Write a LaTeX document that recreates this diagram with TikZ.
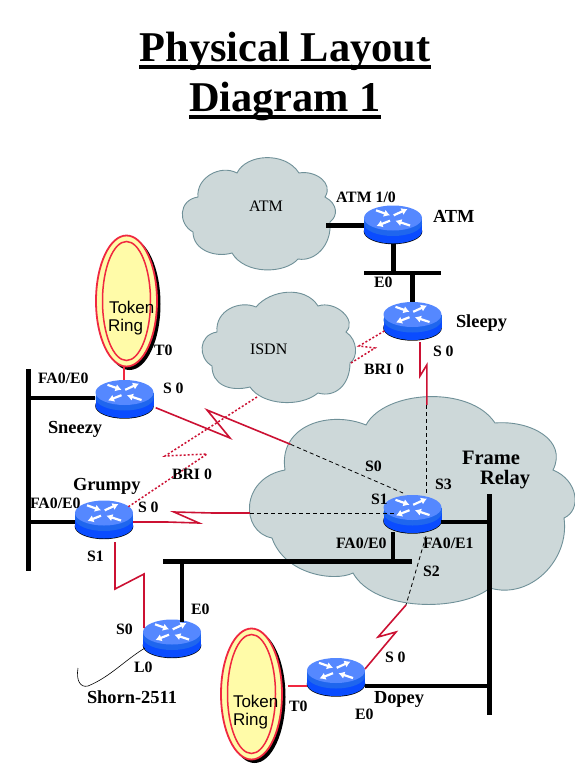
\documentclass[tikz,border=0pt]{standalone}
\usepackage{fontspec}
\setmainfont{Liberation Serif}
\newfontfamily\ringfont{Liberation Sans}
\usetikzlibrary{arrows.meta,calc,shapes.geometric}
\definecolor{cloudfill}{HTML}{CDD8D9}
\definecolor{cloudline}{HTML}{6F9098}
\definecolor{linkred}{HTML}{CC1133}
\definecolor{ringred}{HTML}{F02840}
\definecolor{ringfill}{HTML}{FFFBA8}
\definecolor{rtop}{HTML}{5588FF}
\definecolor{rband}{HTML}{1F66EE}
\definecolor{rlow}{HTML}{0A4CFF}
\newcommand{\lblfont}{\bfseries\fontsize{15.8}{15.8}\selectfont}
\newcommand{\namefont}{\bfseries\fontsize{18.4}{18.4}\selectfont}
\tikzset{
  cloudshape/.style={fill=cloudfill,draw=cloudline,line width=0.9pt},
  barnode/.style={fill=black,draw=none,inner sep=0pt,outer sep=0pt},
  routerbox/.style={draw=none,inner sep=0pt,outer sep=0pt,minimum width=58pt,minimum height=38pt},
  wire/.style={draw=black,line width=4.5pt},
  serial/.style={draw=linkred,line width=1.6pt,line join=miter},
  isdnlink/.style={draw=linkred,line width=1.5pt,dash pattern=on 2pt off 2pt},
  framelink/.style={draw=black,line width=0.8pt,dash pattern=on 4pt off 3pt},
  lab/.style={anchor=base west,inner sep=0pt,outer sep=0pt,font=\lblfont},
  namelab/.style={anchor=base west,inner sep=0pt,outer sep=0pt,font=\namefont},
  cloudlab/.style={anchor=base west,inner sep=0pt,outer sep=0pt,font=\fontsize{16}{16}\selectfont},
  framelab/.style={anchor=base west,inner sep=0pt,outer sep=0pt,font=\bfseries\fontsize{20.5}{20.5}\selectfont},
  ringlab/.style={anchor=base west,inner sep=0pt,outer sep=0pt,font=\ringfont\fontsize{17}{17}\selectfont},
  titlelab/.style={anchor=base,inner sep=0pt,outer sep=0pt,font=\bfseries\fontsize{42.4}{42.4}\selectfont},
  rarrow/.style={draw=white,line width=2.2pt,-{Latex[length=6pt,width=7.5pt]}},
}
% name, centre x, top y
\newcommand{\router}[3]{%
  \node[routerbox] (#1) at (#2,#3+19) {};
  \begin{scope}[shift={(#2,#3)}]
    \fill[black] (0,26) ellipse [x radius=29.3,y radius=12.7];
    \fill[rlow] (0,25.5) ellipse [x radius=29,y radius=12.5];
    \fill[rlow] (-29,12.5) rectangle (29,25.5);
    \fill[rband] (0,18) ellipse [x radius=29,y radius=12.5];
    \fill[rband] (-29,12.5) rectangle (29,18);
    \fill[rtop] (0,12.5) ellipse [x radius=29,y radius=12.5];
    \draw[rarrow] (-17,4.8) -- (-3,9.8);
    \draw[rarrow] (0.7,9.8) -- (14.5,3.5);
    \draw[rarrow] (-3,15.2) -- (-16.5,20.5);
    \draw[rarrow] (17,20) -- (2.5,15.2);
  \end{scope}}
% name, centre x, centre y
\newcommand{\tokenring}[3]{%
  \fill[black] (#2+3,#3+3) ellipse [x radius=31,y radius=66];
  \node[draw=ringred,fill=ringfill,line width=1.8pt,shape=ellipse,inner sep=0pt,minimum width=61pt,minimum height=131pt] (#1) at (#2,#3) {};
  \draw[ringred,line width=1.5pt] (#2,#3) ellipse [x radius=24,y radius=59.5];}
\begin{document}
\begin{tikzpicture}[x=1pt,y=-1pt]
\useasboundingbox (0,0) rectangle (575,776);
\fill[white] (0,0) rectangle (575,776);

% title
\node[titlelab] (title1) at (285,61.5) {Physical Layout};
\node[titlelab] (title2) at (285,111) {Diagram 1};
\fill[black] (139,65.3) rectangle (430.5,68.8);
\fill[black] (189,115.3) rectangle (381,118.8);

% clouds
\draw[cloudshape] (198,197) .. controls (196,178) and (220,164) .. (237,173)
  .. controls (246,154) and (285,151) .. (299,173)
  .. controls (315,170) and (334,183) .. (325,197)
  .. controls (338,204) and (338,216) .. (330,222)
  .. controls (332,245) and (315,262) .. (298,259)
  .. controls (285,274) and (245,275) .. (232,253)
  .. controls (215,258) and (193,250) .. (193,232)
  .. controls (178,224) and (178,200) .. (198,197) -- cycle;
\draw[cloudshape] (217,332) .. controls (215,310) and (240,300) .. (256,307)
  .. controls (270,290) and (305,285) .. (318,306)
  .. controls (335,300) and (358,320) .. (346,332)
  .. controls (358,340) and (358,358) .. (350,363)
  .. controls (350,385) and (335,398) .. (318,393)
  .. controls (300,408) and (262,405) .. (250,387)
  .. controls (230,392) and (212,385) .. (212,366)
  .. controls (198,358) and (198,335) .. (217,332) -- cycle;
\draw[cloudshape] (285,470) .. controls (278,425) and (330,410) .. (366,425)
  .. controls (385,390) and (470,385) .. (495,423)
  .. controls (530,420) and (568,440) .. (553,470)
  .. controls (578,480) and (582,510) .. (564,518)
  .. controls (570,560) and (530,600) .. (490,588)
  .. controls (460,612) and (375,612) .. (353,573)
  .. controls (335,582) and (285,575) .. (272,538)
  .. controls (240,532) and (240,478) .. (285,470) -- cycle;

% bars
\node[barnode,minimum width=4.6pt,minimum height=202pt] (leftbar) at (28.5,470) {};
\node[barnode,minimum width=249pt,minimum height=4.6pt] (midbar) at (287.5,561.5) {};
\node[barnode,minimum width=4.8pt,minimum height=221pt] (rightbar) at (489.5,604.5) {};
\node[barnode,minimum width=77pt,minimum height=4.6pt] (topbar) at (402.5,273) {};

% routers
\router{atm}{393}{205.5}
\router{sleepy}{412.5}{302}
\router{sneezy}{124.5}{380}
\router{grumpy}{104}{500.5}
\router{shorn}{172}{619.5}
\router{central}{412.5}{495}
\router{dopey}{336}{658}

% token rings
\tokenring{ringa}{126.5}{301}
\tokenring{ringb}{251.5}{694}

% named link ends
\coordinate (atmcloud) at (326,225);
\coordinate (sneezyS) at (155.7,407.7);
\coordinate (fra) at (290.5,444.3);
\coordinate (grumpyS) at (133,522);
\coordinate (frb) at (250,513);
\coordinate (grumpyD) at (115,542);
\coordinate (shornS) at (144,628);
\coordinate (sleepyS) at (420,342);
\coordinate (frc) at (426.8,405);
\coordinate (frd) at (406,605);
\coordinate (dopeyS) at (365,669);
\coordinate (isdnL) at (257,397);
\coordinate (grumpyI) at (128,507);
\coordinate (isdnR) at (351,363);
\coordinate (sleepyI) at (386,330);
\coordinate (centralA) at (403,493);
\coordinate (centralB) at (397,513);
\coordinate (centralC) at (426.8,494);
\coordinate (centralD) at (426,536);
\coordinate (shornL) at (145,648);
\coordinate (ringaS) at (124,367);
\coordinate (ringbS) at (288,686);
\coordinate (shornE) at (182,622);
\coordinate (centralE) at (393,532);
\coordinate (centralW) at (441,522);
\coordinate (dopeyE) at (365,686);
\coordinate (grumpyW) at (75,522);
\coordinate (sneezyW) at (95,398);

% wired links
\draw[wire] (sneezyW) -- (sneezyW -| leftbar.center);
\draw[wire] (grumpyW) -- (grumpyW -| leftbar.center);
\draw[wire] (centralW) -- (centralW -| rightbar.center);
\draw[wire] (shornE) -- (shornE |- midbar.center);
\draw[wire] (centralE) -- (centralE |- midbar.center);
\draw[wire,line width=3.6pt] (dopeyE) -- (dopeyE -| rightbar.center);
\draw[wire,line width=5pt] (atmcloud) -- (atmcloud -| atm.west);
\draw[wire,line width=5pt] (atm.south) -- (atm.south |- topbar.center);
\draw[wire,line width=5pt] (topbar.center -| sleepy.north) -- (sleepy.north);

% serial links
\draw[serial] (sneezyS) -- (230,438) -- (207,410) -- (fra);
\draw[serial] (grumpyS) -- (167,522) -- (199,523) -- (174,512) -- (213,513);
\draw[serial,line width=2.2pt] (213,513) -- (frb);
\draw[serial] (grumpyD) -- (115,589) -- (144,574) -- (shornS);
\draw[serial] (sleepyS) -- (420,376) -- (426.8,365) -- (frc);
\draw[serial] (frd) -- (378,637) -- (396,632) -- (dopeyS);
\draw[draw=ringred,line width=2.6pt] (ringaS) -- (ringaS |- sneezy.north);
\draw[draw=ringred,line width=1.8pt] (ringbS) -- (ringbS -| dopey.west);

% ISDN links
\draw[isdnlink] (isdnL) -- (165,456) -- (207,454) -- (grumpyI);
\draw[isdnlink] (isdnR) -- (375,348) -- (359,346) -- (sleepyI);

% frame relay circuits
\draw[framelink] (fra) -- (centralA);
\draw[framelink] (frb) -- (centralB);
\draw[framelink] (frc) -- (centralC);
\draw[framelink] (centralD) -- (frd);

% loopback
\draw[black,line width=0.6pt] (shornL) .. controls (125,660) and (110,677) .. (88,686)
  .. controls (80,688) and (76,680) .. (78,668);

% labels
\node[cloudlab] (latmc) at (249,211) {ATM};
\node[cloudlab] (lisdn) at (250,354) {ISDN};
\node[lab] (latm10) at (336,202) {ATM 1/0};
\node[namelab] (latm) at (433,222) {ATM};
\node[lab] (le0a) at (374,287) {E0};
\node[namelab] (lsleepy) at (456,327) {Sleepy};
\node[lab] (ls0a) at (433,356) {S 0};
\node[lab] (lbria) at (364,374) {BRI 0};
\node[ringlab] (ltk1) at (109,313) {Token};
\node[ringlab] (lrg1) at (108,331) {Ring};
\node[lab] (lt0a) at (154,355) {T0};
\node[lab] (lfa1) at (38,383) {FA0/E0};
\node[lab] (ls0b) at (163,393) {S 0};
\node[namelab] (lsneezy) at (48,433) {Sneezy};
\node[lab] (lbrib) at (172,479) {BRI 0};
\node[namelab] (lgrumpy) at (73,490) {Grumpy};
\node[lab] (lfa2) at (30,508) {FA0/E0};
\node[lab] (ls0c) at (138,512) {S 0};
\node[lab] (ls1a) at (87,561) {S1};
\node[lab] (ls0d) at (116,634) {S0};
\node[lab] (le0b) at (191,614) {E0};
\node[lab] (ll0) at (134,672) {L0};
\node[namelab] (lshorn) at (87,703) {Shorn-2511};
\node[ringlab] (ltk2) at (233,707) {Token};
\node[ringlab] (lrg2) at (233,725) {Ring};
\node[lab] (lt0b) at (289,711) {T0};
\node[framelab] (lframe) at (462,464) {Frame};
\node[framelab] (lrelay) at (480,484) {Relay};
\node[lab] (ls0e) at (365,471) {S0};
\node[lab] (ls3) at (435,489) {S3};
\node[lab] (ls1b) at (371,504) {S1};
\node[lab] (lfa3) at (336,548) {FA0/E0};
\node[lab] (lfa4) at (423,548) {FA0/E1};
\node[lab] (ls2) at (423,576) {S2};
\node[lab] (ls0f) at (385,662) {S 0};
\node[namelab] (ldopey) at (374,703) {Dopey};
\node[lab] (le0c) at (355,719) {E0};
\end{tikzpicture}
\end{document}
